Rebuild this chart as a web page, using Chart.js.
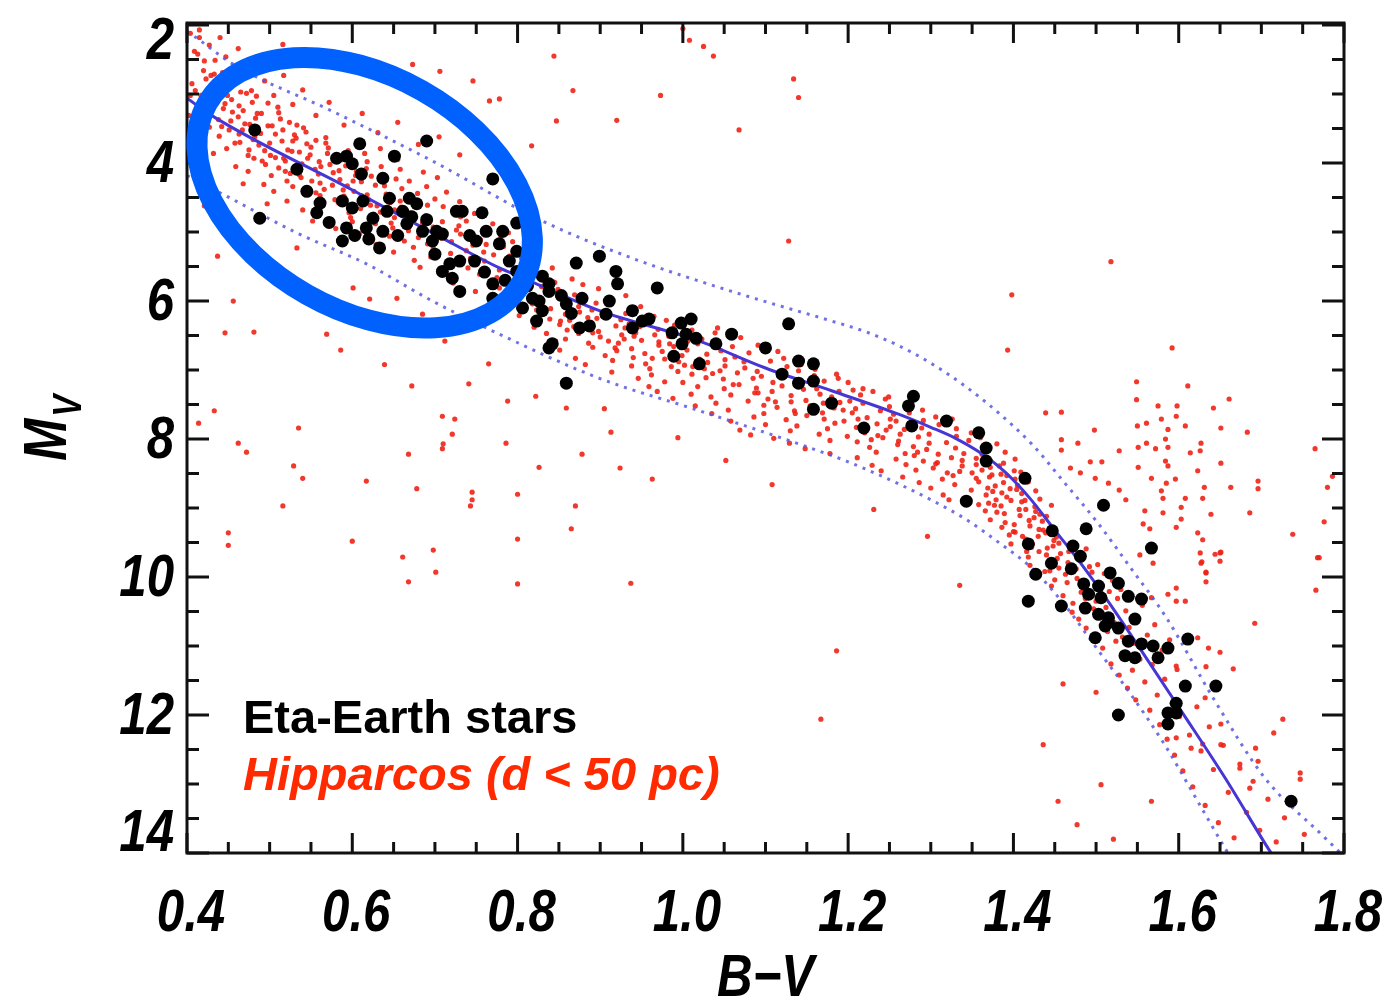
<!DOCTYPE html>
<html>
<head>
<meta charset="utf-8">
<script src="https://cdn.jsdelivr.net/npm/chart.js@4.4.1/dist/chart.umd.min.js"></script>
<style>
  html, body { margin: 0; padding: 0; background: #fff; }
  canvas { display: block; }
</style>
</head>
<body>
<canvas id="hr" width="1386" height="1000"></canvas>
<script>
// axis ticks
const xMajorTicks = [0.4, 0.6, 0.8, 1.0, 1.2, 1.4, 1.6, 1.8];
const yMajorTicks = [2, 4, 6, 8, 10, 12, 14];

// main sequence fit (solid) and its envelope (dotted), B-V vs Mv
const msLine = [[0.40,3.06],[0.431,3.32],[0.60,4.39],[0.70,5.03],[0.778,5.52],[0.80,5.63],[0.899,6.14],[1.020,6.58],[1.100,6.97],[1.180,7.30],[1.261,7.64],[1.30,7.83],[1.33,7.99],[1.36,8.20],[1.39,8.48],[1.42,8.86],[1.45,9.32],[1.482,9.81],[1.515,10.36],[1.555,11.07],[1.603,11.94],[1.656,12.91],[1.708,13.93],[1.72,14.15]];
const envUpper = [[0.40,2.09],[0.412,2.19],[0.456,2.57],[0.576,3.25],[0.697,3.97],[0.830,4.84],[0.939,5.38],[1.059,5.86],[1.180,6.29],[1.22,6.44],[1.26,6.64],[1.30,6.90],[1.34,7.22],[1.38,7.60],[1.422,8.07],[1.463,8.65],[1.503,9.23],[1.542,9.87],[1.584,10.57],[1.644,11.80],[1.704,12.91],[1.777,13.78],[1.80,14.05]];
const envLower = [[0.40,4.18],[0.440,4.43],[0.536,5.03],[0.617,5.46],[0.697,6.00],[0.778,6.48],[0.899,7.12],[1.020,7.59],[1.140,8.07],[1.20,8.33],[1.261,8.65],[1.30,8.88],[1.342,9.16],[1.38,9.48],[1.422,9.87],[1.463,10.42],[1.503,11.07],[1.542,11.70],[1.584,12.45],[1.623,13.25],[1.656,13.93],[1.665,14.1]];

// Eta-Earth stars
const etaEarth = [[0.482,3.52],[0.488,4.80],[0.533,4.09],[0.545,4.41],[0.561,4.58],[0.557,4.72],[0.581,3.93],[0.593,3.90],[0.600,4.01],[0.609,3.72],[0.611,4.16],[0.588,4.55],[0.600,4.65],[0.613,4.55],[0.593,4.94],[0.588,5.13],[0.617,4.94],[0.625,4.80],[0.637,4.99],[0.633,5.23],[0.642,4.70],[0.645,4.51],[0.637,4.22],[0.651,3.90],[0.661,4.70],[0.669,4.51],[0.678,4.59],[0.666,4.88],[0.685,4.99],[0.697,5.13],[0.702,4.99],[0.709,5.03],[0.690,3.68],[0.726,4.70],[0.733,4.70],[0.757,4.72],[0.762,4.99],[0.782,4.99],[0.778,5.17],[0.750,5.13],[0.770,4.23],[0.799,4.87],[0.799,5.28],[0.790,5.42],[0.718,5.46],[0.730,5.42],[0.721,5.67],[0.730,5.86],[0.709,5.57],[0.770,5.75],[0.770,5.96],[0.799,5.57],[0.818,5.96],[0.830,6.14],[0.838,5.86],[0.806,6.10],[0.823,6.29],[0.842,6.62],
  [0.572,4.86],[0.603,5.05],[0.620,5.10],[0.655,5.05],[0.672,4.78],[0.690,4.82],[0.700,5.32],[0.742,5.05],[0.748,5.42],[0.760,5.58],[0.785,5.70],[0.812,5.78],[0.853,5.92],[0.865,6.18],
  [0.899,5.35],[0.871,5.45],[0.919,5.57],[0.921,5.75],[0.969,5.81],[0.838,5.75],[0.830,5.64],[0.826,6.00],[0.859,6.04],[0.878,5.96],[0.911,6.00],[0.907,6.19],[0.875,6.39],[0.887,6.36],[0.939,6.14],[0.951,6.29],[0.959,6.26],[0.939,6.39],[0.987,6.46],[0.998,6.32],[1.010,6.26],[1.004,6.48],[1.016,6.54],[0.999,6.62],[0.989,6.80],[1.020,6.91],[1.040,6.62],[1.059,6.48],[1.100,6.68],[1.128,6.33],[1.140,6.87],[1.158,6.91],[1.120,7.06],[1.140,7.19],[1.158,7.16],[1.180,7.48],[1.158,7.57],[1.219,7.84],[0.838,6.68],[0.859,7.19],
  [1.273,7.52],[1.279,7.38],[1.277,7.81],[1.319,7.74],[1.358,7.91],[1.367,8.13],[1.367,8.32],[1.414,8.57],[1.343,8.90],[1.509,8.96],[1.447,9.33],[1.488,9.30],[1.418,9.52],[1.472,9.55],[1.481,9.70],[1.446,9.80],[1.470,9.88],[1.517,9.94],[1.427,9.96],[1.567,9.58],[1.485,10.10],[1.503,10.13],[1.491,10.25],[1.506,10.30],[1.539,10.28],[1.555,10.32],[1.418,10.35],[1.458,10.42],[1.487,10.45],[1.503,10.54],[1.515,10.59],[1.547,10.61],[1.511,10.71],[1.527,10.74],[1.499,10.88],[1.539,10.93],[1.555,10.97],[1.569,11.00],[1.587,11.03],[1.611,10.90],
  [1.527,10.09],[1.515,10.66],[1.535,11.14],[1.547,11.17],[1.575,11.17],[1.608,11.58],[1.645,11.58],[1.597,11.83],[1.587,11.97],[1.597,11.97],[1.527,12.00],[1.587,12.13],[1.736,13.25]];

// Hipparcos stars within 50 pc, read along the band
const hipBandA = [[0.406,2.85],[0.402,3.31],[0.413,2.42],[0.404,3.02],[0.412,3.58],[0.420,2.66],[0.412,3.19],[0.410,2.95],[0.421,3.44],[0.415,2.18],[0.426,3.11],[0.423,2.78],[0.418,3.67],[0.428,3.29],[0.434,2.51],[0.429,3.05],[0.427,3.48],[0.437,2.88],[0.432,3.86],[0.444,3.21],[0.443,2.69],[0.438,3.37],[0.449,3.02],[0.439,3.61],[0.447,2.93],[0.455,3.26],[0.448,3.79],[0.446,3.14],[0.456,2.84],[0.451,3.52],[0.462,3.33],[0.459,4.05],[0.454,3.08],[0.464,3.70],[0.470,3.43],[0.465,2.97],[0.463,3.58],[0.474,3.89],[0.468,3.24],[0.480,3.66],[0.479,3.12],[0.474,4.12],[0.485,3.49],[0.475,3.81],[0.483,3.35],[0.491,3.97],[0.484,3.03],[0.482,3.62],[0.493,4.31],[0.487,3.74],[0.498,3.46],[0.495,4.02],[0.490,3.28],[0.501,3.89],[0.507,3.58],[0.502,4.18],[0.500,3.71],[0.510,3.19],[0.505,4.41],[0.517,3.93],[0.516,3.52],[0.511,4.07],[0.522,3.81],[0.513,3.36],[0.521,4.26],[0.528,3.68],[0.521,4.55],[0.519,3.97],[0.530,3.59],[0.525,4.15],[0.536,3.84],[0.533,3.45],[0.528,4.34],[0.539,4.01],[0.545,3.72],[0.540,4.68],[0.538,4.21],[0.549,3.88],[0.544,3.55],[0.556,4.43],[0.555,4.09],[0.550,3.77],[0.561,4.29],[0.552,4.84],[0.560,3.98],[0.568,3.63],[0.561,4.47],[0.559,4.16],[0.570,3.86],[0.565,4.61],[0.576,4.32],[0.573,4.02],[0.568,3.71],[0.579,4.53],[0.585,4.24],[0.580,4.95],[0.578,3.93],[0.589,4.39],[0.584,4.11],[0.596,4.72],[0.595,3.82],[0.590,4.48],[0.601,4.26],[0.592,4.04],[0.600,4.63]];
const hipBandB = [[0.605,4.12],[0.600,4.85],[0.611,3.71],[0.602,4.41],[0.610,4.66],[0.618,3.98],[0.611,4.27],[0.609,5.02],[0.620,4.53],[0.615,3.86],[0.626,4.74],[0.623,4.19],[0.618,4.46],[0.629,5.18],[0.635,4.05],[0.630,4.62],[0.628,4.88],[0.639,4.33],[0.634,3.79],[0.646,4.57],[0.645,5.06],[0.640,4.21],[0.651,4.79],[0.642,4.48],[0.650,5.29],[0.658,4.09],[0.651,4.68],[0.649,4.94],[0.660,4.37],[0.655,3.95],[0.666,4.83],[0.663,5.13],[0.658,4.55],[0.669,4.26],[0.675,5.41],[0.670,4.72],[0.668,4.98],[0.679,4.44],[0.674,5.22],[0.686,4.13],[0.685,4.87],[0.680,5.08],[0.691,4.61],[0.682,5.51],[0.690,4.34],[0.698,4.93],[0.691,5.17],[0.689,4.76],[0.700,4.52],[0.695,5.36],[0.706,4.98],[0.703,4.21],[0.698,5.23],[0.709,4.85],[0.715,5.62],[0.710,4.63],[0.708,5.09],[0.719,5.31],[0.714,4.42],[0.726,4.97],[0.725,5.45],[0.720,5.14],[0.731,4.78],[0.722,5.74],[0.730,4.56],[0.738,5.27],[0.731,5.03],[0.729,4.91],[0.740,5.52],[0.735,4.67],[0.746,5.19],[0.743,5.38],[0.738,4.84],[0.749,5.86],[0.755,5.11],[0.750,5.47],[0.748,4.73],[0.759,5.29],[0.754,5.61],[0.766,5.02],[0.765,4.95],[0.760,5.42],[0.771,5.73],[0.762,5.18],[0.770,4.88],[0.778,5.55],[0.771,5.33],[0.769,5.96],[0.780,5.07],[0.775,5.66],[0.786,5.44],[0.783,5.21],[0.778,5.81],[0.789,5.01],[0.795,5.58],[0.790,5.35],[0.788,6.02],[0.799,5.69],[0.794,5.14],[0.806,5.47]];
const hipBandC = [[0.805,5.38],[0.800,5.92],[0.811,5.71],[0.802,6.21],[0.810,5.53],[0.818,6.04],[0.811,5.84],[0.809,5.27],[0.820,6.38],[0.815,5.66],[0.826,5.97],[0.823,6.13],[0.818,5.48],[0.829,5.79],[0.835,6.47],[0.830,6.02],[0.828,5.61],[0.839,6.26],[0.834,5.88],[0.846,6.58],[0.845,5.73],[0.840,6.11],[0.851,6.34],[0.842,5.52],[0.850,5.96],[0.858,6.19],[0.851,6.71],[0.849,5.83],[0.860,6.42],[0.855,6.05],[0.866,5.68],[0.863,6.28],[0.858,6.55],[0.869,5.91],[0.875,6.16],[0.870,6.83],[0.868,6.37],[0.879,5.76],[0.874,6.08],[0.886,6.61],[0.885,6.24],[0.880,5.94],[0.891,6.46],[0.882,6.92],[0.890,6.13],[0.898,5.82],[0.891,6.67],[0.889,6.31],[0.900,6.52],[0.895,6.03],[0.906,6.79],[0.903,6.22],[0.898,6.44],[0.909,5.97],[0.915,6.86],[0.910,6.58],[0.908,6.15],[0.919,6.36],[0.914,7.03],[0.926,6.49],[0.925,6.27],[0.920,6.72],[0.931,5.92],[0.922,6.61],[0.930,6.39],[0.938,6.94],[0.931,6.18],[0.929,6.55],[0.940,6.82],[0.935,6.33],[0.946,7.12],[0.943,6.46],[0.938,6.69],[0.949,6.08],[0.955,6.91],[0.950,6.57],[0.948,6.37],[0.959,7.24],[0.954,6.76],[0.966,6.49],[0.965,6.22],[0.960,6.98],[0.971,6.64],[0.962,7.07],[0.970,6.41],[0.978,6.84],[0.971,6.59],[0.969,7.31],[0.980,6.28],[0.975,6.73],[0.986,6.95],[0.983,6.51],[0.978,7.17],[0.989,6.66],[0.995,6.88],[0.990,6.35],[0.988,7.41],[0.999,6.79],[0.994,7.02],[1.006,6.58]];
const hipBandD = [[1.005,6.71],[1.000,7.18],[1.011,6.42],[1.002,6.93],[1.010,7.35],[1.018,6.62],[1.011,7.06],[1.009,6.28],[1.020,6.84],[1.015,7.52],[1.026,6.98],[1.023,6.55],[1.018,7.24],[1.029,6.77],[1.035,7.63],[1.030,6.89],[1.028,7.11],[1.039,6.46],[1.034,7.39],[1.046,6.72],[1.045,7.01],[1.040,7.48],[1.051,6.85],[1.042,6.39],[1.050,7.27],[1.058,7.74],[1.051,6.94],[1.049,7.13],[1.060,6.66],[1.055,7.58],[1.066,7.04],[1.063,6.81],[1.058,7.36],[1.069,7.87],[1.075,6.97],[1.070,6.53],[1.068,7.21],[1.079,7.45],[1.074,6.88],[1.086,7.68],[1.085,7.12],[1.080,6.75],[1.091,7.33],[1.082,7.94],[1.090,7.02],[1.098,7.51],[1.091,6.64],[1.089,7.26],[1.100,7.79],[1.095,7.09],[1.106,6.87],[1.103,7.42],[1.098,7.63],[1.109,7.18],[1.115,6.73],[1.110,7.99],[1.108,7.31],[1.119,7.05],[1.114,7.54],[1.126,6.95],[1.125,7.72],[1.120,7.23],[1.131,7.46],[1.122,6.83],[1.130,7.88],[1.138,7.14],[1.131,7.37],[1.129,8.06],[1.140,7.01],[1.135,7.59],[1.146,7.28],[1.143,6.92],[1.138,7.81],[1.149,7.44],[1.155,7.19],[1.150,7.66],[1.148,8.14],[1.159,7.08],[1.154,7.52],[1.166,7.35],[1.165,7.93],[1.160,6.99],[1.171,7.71],[1.162,7.27],[1.170,7.48],[1.178,8.02],[1.171,7.16],[1.169,7.62],[1.180,7.39],[1.175,7.85],[1.186,7.06],[1.183,7.55],[1.178,8.21],[1.189,7.31],[1.195,7.74],[1.190,7.47],[1.188,7.12],[1.199,7.96],[1.194,7.58],[1.206,7.29]];
const hipBandE = [[1.205,7.62],[1.200,7.18],[1.211,8.04],[1.202,7.45],[1.210,7.83],[1.218,7.27],[1.211,8.27],[1.209,7.56],[1.220,7.91],[1.215,7.36],[1.226,8.12],[1.223,7.69],[1.218,7.48],[1.229,8.38],[1.235,7.78],[1.230,7.31],[1.228,8.01],[1.239,7.59],[1.234,8.19],[1.246,7.87],[1.245,7.42],[1.240,8.46],[1.251,7.71],[1.242,7.98],[1.250,7.53],[1.258,8.29],[1.251,7.82],[1.249,7.39],[1.260,8.08],[1.255,7.64],[1.266,8.55],[1.263,7.93],[1.258,7.74],[1.269,8.21],[1.275,7.51],[1.270,8.37],[1.268,7.86],[1.279,8.11],[1.274,7.62],[1.286,8.63],[1.285,7.97],[1.280,8.24],[1.291,7.73],[1.282,8.45],[1.290,7.58],[1.298,8.06],[1.291,8.32],[1.289,7.84],[1.300,8.71],[1.295,8.15],[1.306,7.68],[1.303,8.42],[1.298,7.93],[1.309,8.22],[1.315,8.81],[1.310,7.79],[1.308,8.34],[1.319,8.05],[1.314,8.58],[1.326,7.71],[1.325,8.27],[1.320,8.49],[1.331,7.96],[1.322,8.88],[1.330,8.13],[1.338,8.39],[1.331,7.85],[1.329,8.66],[1.340,8.21],[1.335,8.47],[1.346,8.02],[1.343,8.95],[1.338,8.31],[1.349,7.91],[1.355,8.57]];
const hipBandF = [[1.355,8.28],[1.349,8.74],[1.360,7.86],[1.350,8.49],[1.358,8.95],[1.365,8.13],[1.358,8.62],[1.355,8.37],[1.366,9.04],[1.360,7.98],[1.371,8.55],[1.367,8.81],[1.362,8.22],[1.372,9.17],[1.378,8.68],[1.372,8.41],[1.370,8.93],[1.380,8.07],[1.375,8.76],[1.386,9.28],[1.385,8.51],[1.379,8.88],[1.390,8.19],[1.380,9.06],[1.388,8.63],[1.395,9.39],[1.388,8.35],[1.385,8.97],[1.396,8.72],[1.390,9.21],[1.401,8.46],[1.397,9.52],[1.392,8.84],[1.402,8.58],[1.408,9.11],[1.402,8.29],[1.400,9.34],[1.410,8.91],[1.405,8.67],[1.416,9.63],[1.415,9.02],[1.409,8.48],[1.420,9.26],[1.410,8.79],[1.418,9.71],[1.425,9.14],[1.418,8.62],[1.415,9.45],[1.426,8.98],[1.420,9.83],[1.431,9.31],[1.427,8.75],[1.422,9.57],[1.432,9.09],[1.438,9.92],[1.432,8.87],[1.430,9.41],[1.440,9.68],[1.435,9.19],[1.446,8.96],[1.445,9.78],[1.439,9.36],[1.450,10.04],[1.440,9.12],[1.448,9.55],[1.455,9.87],[1.448,9.28],[1.446,10.13],[1.457,9.66],[1.452,9.42],[1.463,9.96],[1.460,10.27],[1.455,9.51],[1.466,9.79],[1.472,10.38],[1.467,9.63],[1.465,10.08],[1.476,9.88],[1.471,10.51],[1.483,9.74],[1.482,10.22],[1.477,10.02],[1.488,9.59],[1.479,10.61],[1.487,10.31],[1.495,9.93],[1.488,10.74],[1.486,10.18],[1.497,10.46],[1.492,9.85],[1.503,10.87],[1.500,10.35]];
const hipBandG = [[1.502,9.82],[1.504,10.58],[1.506,10.12],[1.508,11.03],[1.510,9.95],[1.512,10.44],[1.514,10.79],[1.516,10.21],[1.518,11.26],[1.520,10.05],[1.522,10.66],[1.524,10.93],[1.526,10.31],[1.528,11.42],[1.530,10.18],[1.532,10.87],[1.534,11.12],[1.536,10.49],[1.538,11.61],[1.540,10.73],[1.542,10.28],[1.544,11.35],[1.546,10.96],[1.548,11.78],[1.550,10.62],[1.553,11.19],[1.556,10.41],[1.559,11.52],[1.562,10.84],[1.565,11.93],[1.568,11.27],[1.571,10.69],[1.574,11.71],[1.577,12.14],[1.580,11.06],[1.583,11.48],[1.586,12.35],[1.589,10.91],[1.592,11.83],[1.595,12.58],[1.598,11.34],[1.601,12.02],[1.605,12.81],[1.609,11.61],[1.613,12.29],[1.617,13.04],[1.622,11.88],[1.627,12.52],[1.632,13.31],[1.637,12.17],[1.642,12.79],[1.648,13.56],[1.654,12.44],[1.660,13.12],[1.667,13.78],[1.674,12.71],[1.682,13.41],[1.690,12.96],[1.698,13.67],[1.708,13.22],[1.718,13.84],[1.728,13.49],[1.752,13.73],
  [1.768,9.72],[1.766,10.19],[1.692,10.67],[1.747,12.84],[1.747,12.93],[1.726,12.06],[1.715,12.26],[1.693,12.48],[1.696,12.67],[1.674,12.77],[1.686,13.06],[1.651,12.13],[1.651,12.43],[1.666,11.33],[1.632,11.75],[1.633,11.30],[1.629,12.42],[1.615,12.48],[1.597,12.33],[1.650,11.09],[1.636,11.03],[1.623,10.88],[1.597,11.29],[1.608,10.35],[1.597,10.35],[1.597,10.16],[1.587,10.25],[1.567,10.30],[1.633,10.07],[1.633,9.93],[1.628,9.78],[1.650,9.65],[1.567,13.25],[1.521,13.80],[1.477,13.59],[1.506,13.01],[1.436,12.43],[1.460,11.55],[1.500,11.67]];
// extra stars in the most crowded parts of the band
const hipDense = [[0.417,3.02],[0.423,3.36],[0.429,2.73],[0.436,3.13],[0.442,3.47],[0.449,2.86],[0.453,3.39],[0.458,3.71],[0.463,3.17],[0.467,3.52],[0.472,2.99],[0.476,3.44],[0.481,3.93],[0.485,3.28],[0.489,3.57],[0.494,3.82],[0.498,3.13],[0.503,3.46],[0.507,3.92],[0.511,3.27],[0.515,3.68],[0.519,4.12],[0.524,3.41],[0.527,3.83],[0.532,3.64],[0.536,4.17],[0.541,3.49],[0.546,3.93],[0.551,4.26],[0.556,3.67],[0.562,4.05],[0.566,4.38],[0.571,3.78],[0.577,4.14],[0.583,4.57],[0.588,3.95],[0.594,4.33],[0.598,4.79],[0.604,4.18],[0.611,4.47],[0.617,4.08],[0.622,4.61],[0.628,4.32],[0.634,4.71],[0.641,4.45],[0.647,4.87],[0.653,4.23],[0.659,4.64],
  [0.852,6.29],[0.874,6.47],[0.896,6.25],[0.918,6.68],[0.941,6.51],[0.963,6.83],[0.984,6.62],[1.012,6.95],[1.036,7.05],[1.061,7.21],[1.087,7.33],[1.112,7.46],[1.136,7.63],[1.161,7.54],[1.184,7.77],[1.212,7.71],[1.236,7.95],[1.261,8.03],[1.284,8.19],[1.306,8.36],[1.327,8.53],
  [1.362,8.45],[1.366,8.31],[1.369,8.71],[1.374,8.52],[1.377,8.96],[1.383,8.39],[1.386,8.78],[1.389,9.08],[1.392,8.53],[1.397,8.89],[1.401,9.24],[1.404,8.73],[1.407,9.02],[1.411,9.41],[1.414,8.89],[1.419,9.18],[1.423,9.52],[1.427,9.05],[1.431,9.63],[1.436,9.32],[1.441,9.58],[1.444,9.91],[1.449,9.47],[1.453,9.73]];
// stars above the band (bright side) and the red giant clump
const hipUpper = [[0.404,2.12],[0.409,2.38],[0.415,2.07],[0.421,2.52],[0.427,2.29],[0.433,2.71],[0.440,2.18],[0.447,2.46],[0.455,2.87],[0.462,2.34],[0.470,2.63],[0.478,2.95],[0.486,2.52],[0.494,2.81],[0.505,3.02],[0.516,2.28],[0.517,2.73],[0.528,3.15],[0.540,2.94],[0.556,3.31],[0.564,2.48],[0.572,3.12],[0.590,3.45],[0.600,2.62],[0.612,3.28],[0.631,3.56],[0.655,3.41],[0.673,2.57],[0.706,2.67],[0.680,3.73],[0.705,3.62],[0.730,3.88],[0.746,2.81],[0.766,3.10],[0.778,3.07],[0.817,3.75],[0.844,2.45],[0.847,3.39],[0.867,2.95],[0.920,3.38],[0.973,3.02],[1.000,2.05],[1.008,2.22],[1.025,2.31],[1.037,2.45],[1.068,3.52],[1.134,2.78],[1.140,3.05],[1.128,5.13],[1.518,5.43],[1.398,5.91],[1.393,6.71],[1.592,6.68]];
const hipGiants = [[1.549,7.17],[1.611,7.23],[1.439,7.62],[1.458,7.61],[1.549,7.43],[1.575,7.52],[1.598,7.52],[1.642,7.55],[1.661,7.42],[1.597,7.67],[1.579,7.71],[1.561,7.77],[1.550,7.81],[1.587,7.86],[1.608,7.81],[1.651,7.84],[1.683,7.90],[1.498,7.87],[1.458,8.01],[1.478,8.06],[1.458,8.16],[1.551,8.12],[1.561,8.06],[1.572,8.14],[1.584,8.00],[1.587,8.12],[1.627,8.06],[1.626,8.17],[1.614,8.20],[1.528,8.17],[1.765,8.14],[1.493,8.33],[1.507,8.33],[1.584,8.32],[1.587,8.39],[1.651,8.35],[1.469,8.42],[1.551,8.41],[1.623,8.46],[1.481,8.49],[1.499,8.57],[1.567,8.57],[1.596,8.58],[1.515,8.64],[1.585,8.64],[1.631,8.70],[1.663,8.70],[1.696,8.61],[1.696,8.72],[1.780,8.70],[1.786,8.54],[1.528,8.74],[1.579,8.75],[1.581,8.86],[1.608,8.86],[1.629,8.86],[1.536,8.88],[1.603,8.99],[1.559,9.04],[1.581,9.07],[1.639,9.09],[1.686,9.07],[1.603,9.16],[1.557,9.23],[1.565,9.30],[1.597,9.28],[1.623,9.36],[1.738,9.38],[1.776,9.20],[1.629,9.46],[1.626,9.65],[1.644,9.67],[1.651,9.64],[1.650,9.77],[1.627,9.80],[1.770,9.72],[1.553,9.68],[1.569,9.80],[1.633,9.94]];
// scattered stars below the band
const hipField = [[0.414,7.77],[0.433,7.59],[0.462,8.06],[0.472,8.19],[0.535,7.84],[0.529,8.39],[0.540,8.57],[0.516,8.97],[0.450,9.36],[0.450,9.54],[0.600,9.48],[0.617,8.61],[0.668,8.22],[0.672,7.23],[0.678,8.72],[0.661,9.71],[0.668,10.07],[0.698,9.61],[0.701,9.93],[0.709,7.67],[0.724,7.71],[0.721,7.93],[0.710,8.07],[0.709,8.14],[0.745,8.77],[0.745,8.88],[0.743,8.97],[0.741,7.20],[0.788,7.45],[0.786,8.06],[0.800,8.80],[0.800,9.45],[0.800,10.10],[0.826,8.41],[0.859,7.55],[0.878,8.22],[0.870,8.97],[0.865,9.30],[0.913,7.90],[0.924,8.42],[0.963,8.58],[0.937,10.09],
  [0.446,6.46],[0.569,6.48],[0.468,4.30],[0.497,4.59],[0.533,5.23],[0.601,5.81],[0.621,5.97],[0.654,5.96],[0.685,6.19],[0.456,6.00],[0.481,6.45],[0.421,4.62],[0.437,5.35],[0.513,5.72],[0.586,6.71],[0.639,6.92],[0.712,6.58],[0.765,6.91],[0.822,7.38],[0.905,7.56],[1.186,11.07],[1.167,12.06],[1.454,13.25],[1.402,9.35],[1.052,8.31],[1.108,8.66],[0.994,7.98],[1.231,9.02],[1.296,9.41],[1.335,10.12]];

const toPts = arr => arr.map(([x, y]) => ({ x, y }));
const hipparcos = [].concat(hipBandA, hipBandB, hipBandC, hipBandD, hipBandE, hipBandF, hipBandG, hipDense, hipUpper, hipGiants, hipField);

const FONT_FACE = '"Liberation Sans", Arial, Helvetica, sans-serif';
const SQUEEZE = 0.82;   // IDL labels are narrower than Liberation Sans

function squeezedText(ctx, text, x, y) {
    ctx.save();
    ctx.translate(x, y);
    ctx.scale(SQUEEZE, 1);
    ctx.fillText(text, 0, 0);
    ctx.restore();
}

// frame with inward ticks on all four sides, IDL style labels, legend text, highlight ellipse
const idlFrame = {
    id: 'idlFrame',
    afterDraw(chart) {
        const { ctx, chartArea: a, scales: { x, y } } = chart;
        ctx.save();
        ctx.strokeStyle = '#111';
        ctx.lineWidth = 3;
        ctx.strokeRect(a.left, a.top, a.right - a.left, a.bottom - a.top);

        ctx.beginPath();
        for (let i = 0; i <= 28; i++) {
            const px = x.getPixelForValue(0.4 + i * 0.05);
            const len = i % 4 === 0 ? 20 : 11;
            ctx.moveTo(px, a.bottom); ctx.lineTo(px, a.bottom - len);
            ctx.moveTo(px, a.top); ctx.lineTo(px, a.top + len);
        }
        for (let i = 0; i <= 24; i++) {
            const py = y.getPixelForValue(2 + i * 0.5);
            const len = i % 4 === 0 ? 22 : 12;
            ctx.moveTo(a.left, py); ctx.lineTo(a.left + len, py);
            ctx.moveTo(a.right, py); ctx.lineTo(a.right - len, py);
        }
        ctx.stroke();

        // tick labels
        ctx.fillStyle = '#000';
        ctx.font = 'italic bold 60px ' + FONT_FACE;
        ctx.textAlign = 'center';
        ctx.textBaseline = 'alphabetic';
        xMajorTicks.forEach(v => squeezedText(ctx, v.toFixed(1), x.getPixelForValue(v) + 4, 931));
        ctx.textAlign = 'right';
        ctx.textBaseline = 'middle';
        yMajorTicks.forEach((v, i) => {
            let py = y.getPixelForValue(v);
            if (i === 0) py = Math.max(py, a.top + 17);
            if (i === yMajorTicks.length - 1) py = Math.min(py, a.bottom - 21);
            squeezedText(ctx, String(v), a.left - 13, py + 2);
        });

        // axis titles
        ctx.textAlign = 'center';
        ctx.textBaseline = 'alphabetic';
        squeezedText(ctx, 'B\u2212V', (a.left + a.right) / 2, 996);

        ctx.save();
        ctx.translate(66, 461);
        ctx.rotate(-Math.PI / 2);
        ctx.textAlign = 'left';
        ctx.font = 'italic bold 62px ' + FONT_FACE;
        squeezedText(ctx, 'M', 0, 0);
        const mw = ctx.measureText('M').width * SQUEEZE;
        ctx.font = 'italic bold 40px ' + FONT_FACE;
        squeezedText(ctx, 'V', mw + 2, 15);
        ctx.restore();

        // legend text
        ctx.textAlign = 'left';
        ctx.font = 'bold 47px ' + FONT_FACE;
        ctx.fillStyle = '#000';
        ctx.fillText('Eta-Earth stars', 243, 733);
        ctx.font = 'italic bold 47px ' + FONT_FACE;
        ctx.fillStyle = '#ff2a00';
        ctx.fillText('Hipparcos (d < 50 pc)', 243, 790);

        // highlighted group of Sun-like stars
        ctx.strokeStyle = '#0061fe';
        ctx.lineWidth = 21;
        ctx.beginPath();
        ctx.ellipse(x.getPixelForValue(0.615), y.getPixelForValue(4.43), 181, 117, 29.5 * Math.PI / 180, 0, Math.PI * 2);
        ctx.stroke();
        ctx.restore();
    }
};

new Chart(document.getElementById('hr'), {
    type: 'scatter',
    data: {
        datasets: [
            { label: 'Eta-Earth stars', data: toPts(etaEarth), backgroundColor: '#000', borderWidth: 0, pointRadius: 6.5, order: 0 },
            { label: 'fit', data: toPts(msLine), showLine: true, borderColor: '#4636d4', borderWidth: 3, pointRadius: 0, cubicInterpolationMode: 'monotone', order: 1 },
            { label: 'upper', data: toPts(envUpper), showLine: true, borderColor: 'rgba(88,88,225,0.85)', borderWidth: 3, borderDash: [3, 6], pointRadius: 0, cubicInterpolationMode: 'monotone', order: 2 },
            { label: 'lower', data: toPts(envLower), showLine: true, borderColor: 'rgba(88,88,225,0.85)', borderWidth: 3, borderDash: [3, 6], pointRadius: 0, cubicInterpolationMode: 'monotone', order: 2 },
            { label: 'Hipparcos (d < 50 pc)', data: toPts(hipparcos), backgroundColor: 'rgba(240,34,22,0.9)', borderWidth: 0, pointRadius: 2.6, order: 3 }
        ]
    },
    options: {
        responsive: false,
        animation: false,
        devicePixelRatio: 1,
        layout: { padding: { left: 187, right: 42, top: 23, bottom: 147 } },
        scales: {
            x: { type: 'linear', min: 0.4, max: 1.8, display: false },
            y: { type: 'linear', min: 1.97, max: 14, reverse: true, display: false }
        },
        plugins: { legend: { display: false }, tooltip: { enabled: false } }
    },
    plugins: [idlFrame]
});
</script>
</body>
</html>
